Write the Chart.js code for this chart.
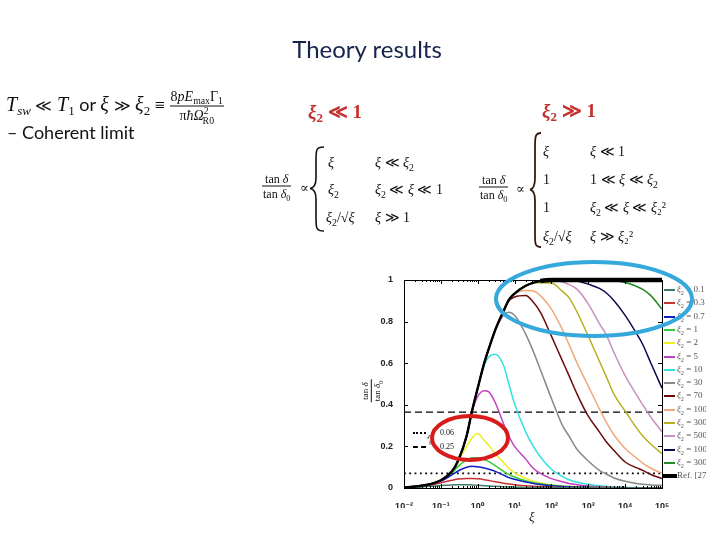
<!DOCTYPE html>
<html>
<head>
<meta charset="utf-8">
<script src="https://cdn.jsdelivr.net/npm/chart.js@4.4.1/dist/chart.umd.min.js"></script>
<style>
  html, body { margin:0; padding:0; background:#fff; }
  #wrap { position:relative; width:720px; height:540px; overflow:hidden; background:#fff; }
  #c { position:absolute; left:0; top:0; }
  .t { position:absolute; white-space:nowrap; line-height:1; transform:translateY(-50%); }
  .m { font-family:'Liberation Serif','DejaVu Serif',serif; color:#111; }
  .frac { display:inline-block; text-align:center; vertical-align:middle; }
  .frac .n { display:block; padding:0 1px 1px 1px; }
  .frac .d { display:block; border-top:1px solid #111; padding:1px 1px 0 1px; }
  sub, sup { font-size:70%; line-height:0; }
  #legend { position:absolute; left:662px; top:283px; width:44px; height:205px; overflow:hidden; }
  .lr { position:absolute; left:0; height:13px; white-space:nowrap; font:9px 'Liberation Serif','DejaVu Serif',serif; color:#555; }
  .lr .s { position:absolute; left:2px; top:6px; width:11px; height:2px; }
  .lr .l { position:absolute; left:15px; top:1px; }
  svg#ov { position:absolute; left:0; top:0; pointer-events:none; }
</style>
</head>
<body>
<div id="wrap">
  <canvas id="c" width="720" height="540" style="width:720px;height:540px"></canvas>

  <div class="t" style="left:0;width:734px;top:48px;text-align:center;font:24px Lato,'Open Sans',sans-serif;color:#17254d;">Theory results</div>

  <div class="t" style="left:6px;top:106px;font:18px Lato,'Open Sans',sans-serif;color:#111;">
    <span class="m" style="font-style:italic;font-size:20px">T</span><span class="m" style="font-style:italic;font-size:13px;vertical-align:-4px">sw</span>
    <span class="m" style="font-size:16px">≪</span>
    <span class="m" style="font-style:italic;font-size:20px">T</span><span class="m" style="font-size:13px;vertical-align:-4px">1</span>
    or
    <span class="m" style="font-style:italic;font-size:20px">ξ</span>
    <span class="m" style="font-size:16px">≫</span>
    <span class="m" style="font-style:italic;font-size:20px">ξ</span><span class="m" style="font-size:13px;vertical-align:-4px">2</span>
    <span class="m" style="font-size:18px">≡</span>
    <span class="frac m" style="font-size:14px;"><span class="n">8<i>pE</i><sub>max</sub>Γ<sub>1</sub></span><span class="d">π<i>ħ</i><i>Ω</i><sup>2</sup><sub style="margin-left:-6px">R0</sub></span></span>
  </div>
  <div class="t" style="left:7px;top:132px;font:18px Lato,'Open Sans',sans-serif;color:#111;">– Coherent limit</div>

  <div class="t m" style="left:308px;top:111px;font-size:19px;color:#c4302e;font-weight:bold;"><i>ξ</i><sub style="font-size:13px">2</sub> ≪ 1</div>
  <div class="t m" style="left:542px;top:110px;font-size:19px;color:#c4302e;font-weight:bold;"><i>ξ</i><sub style="font-size:13px">2</sub> ≫ 1</div>

  <!-- left block -->
  <div class="t m" style="left:262px;top:186px;font-size:12px;"><span class="frac"><span class="n">tan <i>δ</i></span><span class="d">tan <i>δ</i><sub>0</sub></span></span></div>
  <div class="t m" style="left:300px;top:187px;font-size:13px;">∝</div>
  <div class="t m" style="left:328px;top:163px;font-size:14px;"><i>ξ</i></div>
  <div class="t m" style="left:375px;top:163px;font-size:14px;"><i>ξ</i> ≪ <i>ξ</i><sub>2</sub></div>
  <div class="t m" style="left:328px;top:190px;font-size:14px;"><i>ξ</i><sub>2</sub></div>
  <div class="t m" style="left:375px;top:190px;font-size:14px;"><i>ξ</i><sub>2</sub> ≪ <i>ξ</i> ≪ 1</div>
  <div class="t m" style="left:326px;top:218px;font-size:14px;"><i>ξ</i><sub>2</sub>/√<i>ξ</i></div>
  <div class="t m" style="left:375px;top:218px;font-size:14px;"><i>ξ</i> ≫ 1</div>

  <!-- right block -->
  <div class="t m" style="left:479px;top:187px;font-size:12px;"><span class="frac"><span class="n">tan <i>δ</i></span><span class="d">tan <i>δ</i><sub>0</sub></span></span></div>
  <div class="t m" style="left:516px;top:188px;font-size:13px;">∝</div>
  <div class="t m" style="left:543px;top:152px;font-size:14px;"><i>ξ</i></div>
  <div class="t m" style="left:590px;top:152px;font-size:14px;"><i>ξ</i> ≪ 1</div>
  <div class="t m" style="left:543px;top:180px;font-size:14px;">1</div>
  <div class="t m" style="left:590px;top:180px;font-size:14px;">1 ≪ <i>ξ</i> ≪ <i>ξ</i><sub>2</sub></div>
  <div class="t m" style="left:543px;top:208px;font-size:14px;">1</div>
  <div class="t m" style="left:590px;top:208px;font-size:14px;"><i>ξ</i><sub>2</sub> ≪ <i>ξ</i> ≪ <i>ξ</i>₂²</div>
  <div class="t m" style="left:543px;top:237px;font-size:14px;"><i>ξ</i><sub>2</sub>/√<i>ξ</i></div>
  <div class="t m" style="left:590px;top:237px;font-size:14px;"><i>ξ</i> ≫ <i>ξ</i>₂²</div>

  <!-- axis titles -->
  <div class="t m" style="left:360px;top:391px;font-size:9px;transform:translateY(-50%) rotate(-90deg);transform-origin:center;"><span class="frac"><span class="n">tan <i>δ</i></span><span class="d">tan <i>δ</i><sub>0</sub></span></span></div>
  <div class="t m" style="left:529px;top:516px;font-size:13px;"><i>ξ</i></div>

  <!-- inner mini legend -->
  <div style="position:absolute;left:413px;top:432px;width:13px;border-top:2px dotted #000;"></div>
  <div style="position:absolute;left:413px;top:446px;width:13px;border-top:2px dashed #000;"></div>
  <div class="t m" style="left:425px;top:440px;font-size:8px;transform:translateY(-50%) rotate(90deg);">ξ ≈</div>
  <div class="t m" style="left:440px;top:433px;font-size:8px;">0.06</div>
  <div class="t m" style="left:440px;top:447px;font-size:8px;">0.25</div>

  <div id="legend"></div>

  <svg id="ov" width="720" height="540">
    <path d="M324,147 C316,147 316,150 316,160 L316,178 C316,185 314,188 310,188.5 C314,189 316,192 316,199 L316,218 C316,228 316,231 324,231" fill="none" stroke="#111" stroke-width="1.6"/>
    <path d="M541,133 C535,133 535,137 535,148 L535,178 C535,186 533,189 530,189.5 C533,190 535,193 535,201 L535,234 C535,244 535,247 541,247" fill="none" stroke="#3a1a10" stroke-width="1.8"/>
    <ellipse cx="470" cy="438" rx="38" ry="22" fill="none" stroke="#d81c1c" stroke-width="4"/>
    <ellipse cx="594" cy="299" rx="98" ry="37" fill="none" stroke="#35a8dc" stroke-width="4"/>
  </svg>
</div>

<script>
// ---- data ----
const xs = [0.01, 0.02, 0.05, 0.1, 0.2, 0.3, 0.5, 0.7, 1, 1.5, 2, 3, 5, 7, 10, 20, 30, 50, 100, 200, 300, 500, 1000, 2000, 3000, 5000, 1e4, 2e4, 3e4, 5e4, 1e5];

const seriesLabels = ['0.1','0.3','0.7','1','2','5','10','30','70','100','300','500','1000','3000'];
const refLabel = 'Ref. [27]';

const curve01   = [0.002,0.004,0.008,0.012,0.015,0.016,0.016,0.015,0.013,0.011,0.010,0.008,0.006,0.005,0.004,0.003,0.002,0.002,0.001,0.001,0.001,0.001,0.001,0,0,0,0,0,0,0,0];
const curve03   = [0.002,0.005,0.012,0.025,0.037,0.043,0.046,0.046,0.044,0.040,0.036,0.030,0.023,0.019,0.016,0.011,0.009,0.007,0.005,0.003,0.003,0.002,0.001,0.001,0.001,0,0,0,0,0,0];
const curve07   = [0.003,0.006,0.016,0.033,0.063,0.083,0.100,0.105,0.102,0.096,0.090,0.080,0.062,0.050,0.042,0.029,0.023,0.017,0.011,0.007,0.006,0.004,0.003,0.002,0.002,0.001,0.001,0,0,0,0];
const curve1    = [0.003,0.007,0.017,0.036,0.073,0.105,0.135,0.145,0.145,0.137,0.127,0.108,0.080,0.065,0.053,0.035,0.027,0.020,0.013,0.009,0.007,0.005,0.003,0.002,0.002,0.001,0.001,0,0,0,0];
const curve2    = [0.003,0.007,0.018,0.037,0.080,0.130,0.200,0.240,0.262,0.228,0.205,0.163,0.123,0.095,0.073,0.046,0.034,0.024,0.015,0.009,0.007,0.005,0.003,0.002,0.002,0.001,0.001,0,0,0,0];
const curve5    = [0.003,0.007,0.018,0.037,0.080,0.135,0.250,0.365,0.440,0.468,0.462,0.410,0.310,0.250,0.200,0.140,0.100,0.070,0.045,0.030,0.022,0.016,0.010,0.006,0.005,0.003,0.002,0.001,0.001,0,0];
const curve10   = [0.003,0.007,0.018,0.037,0.080,0.135,0.250,0.370,0.480,0.590,0.630,0.643,0.590,0.500,0.405,0.270,0.210,0.150,0.090,0.055,0.040,0.028,0.018,0.011,0.008,0.005,0.003,0.002,0.001,0.001,0];
const curve30   = [0.003,0.007,0.018,0.037,0.080,0.135,0.250,0.370,0.480,0.600,0.670,0.760,0.830,0.845,0.830,0.740,0.670,0.570,0.430,0.300,0.250,0.185,0.130,0.085,0.068,0.048,0.032,0.022,0.018,0.015,0.012];
const curve70   = [0.003,0.007,0.018,0.037,0.080,0.135,0.250,0.370,0.480,0.600,0.670,0.760,0.850,0.900,0.918,0.925,0.900,0.845,0.730,0.610,0.540,0.450,0.345,0.270,0.225,0.180,0.125,0.098,0.085,0.065,0.045];
const curve100  = [0.003,0.007,0.018,0.037,0.080,0.135,0.250,0.370,0.480,0.600,0.670,0.760,0.850,0.905,0.935,0.950,0.948,0.925,0.860,0.760,0.690,0.600,0.490,0.380,0.320,0.255,0.190,0.145,0.120,0.095,0.070];
const curve300  = [0.003,0.007,0.018,0.037,0.080,0.135,0.250,0.370,0.480,0.600,0.670,0.760,0.850,0.905,0.935,0.972,0.985,0.987,0.985,0.945,0.915,0.845,0.730,0.610,0.540,0.450,0.370,0.290,0.250,0.210,0.165];
const curve500  = [0.003,0.007,0.018,0.037,0.080,0.135,0.250,0.370,0.480,0.600,0.670,0.760,0.850,0.905,0.935,0.972,0.985,0.995,0.997,0.990,0.978,0.955,0.885,0.790,0.740,0.650,0.540,0.450,0.400,0.340,0.270];
const curve1000 = [0.003,0.007,0.018,0.037,0.080,0.135,0.250,0.370,0.480,0.600,0.670,0.760,0.850,0.905,0.935,0.972,0.985,0.995,1.000,1.000,1.000,0.995,0.980,0.960,0.940,0.900,0.830,0.745,0.690,0.600,0.480];
const curve3000 = [0.003,0.007,0.018,0.037,0.080,0.135,0.250,0.370,0.480,0.600,0.670,0.760,0.850,0.905,0.935,0.972,0.985,0.995,1.000,1.000,1.000,1.000,1.000,1.000,1.000,0.997,0.988,0.970,0.955,0.925,0.860];
const refCurve  = [0.003,0.007,0.018,0.037,0.080,0.135,0.250,0.370,0.480,0.600,0.670,0.760,0.850,0.905,0.935,0.972,0.985,0.995,1.000,1.000,1.000,1.000,1.000,1.000,1.000,1.000,1.000,1.000,1.000,1.000,1.000];

const levelXs = [0.01, 1e5];
const dashedLevel = [0.365, 0.365];
const dottedLevel = [0.07, 0.07];

const xTickValues = [0.01, 0.1, 1, 10, 100, 1000, 1e4, 1e5];
const xTickLabels = ['10⁻²','10⁻¹','10⁰','10¹','10²','10³','10⁴','10⁵'];
const yTickValues = [0, 0.2, 0.4, 0.6, 0.8, 1];
const yTickLabels = ['0','0.2','0.4','0.6','0.8','1'];

// ---- styles ----
const seriesData = [curve01, curve03, curve07, curve1, curve2, curve5, curve10, curve30, curve70, curve100, curve300, curve500, curve1000, curve3000];
const seriesColors = ['#3d7a66','#c83232','#1020c0','#33cc33','#eeee22','#c040c0','#33e0e0','#888888','#6b0a0a','#f0a878','#b8b020','#c890c0','#0a0a50','#228b22'];

const toPts = (xa, ya) => xa.map((x, i) => ({ x: x, y: ya[i] }));

const datasets = [];
datasets.push({ label: refLabel, data: toPts(xs, refCurve), borderColor: '#000', borderWidth: 2.4, order: 0, clip: 5,
  segment: { borderWidth: c => (c.p0.parsed.y >= 0.99 && c.p1.parsed.y >= 0.99) ? 4.5 : 2.4 } });
seriesData.forEach((arr, i) => {
  datasets.push({ label: 'ξ₂ = ' + seriesLabels[i], data: toPts(xs, arr), borderColor: seriesColors[i], borderWidth: 1.5, order: 10 + i, clip: 3 });
});
datasets.push({ label: 'dashed', data: toPts(levelXs, dashedLevel), borderColor: '#000', borderWidth: 1.2, borderDash: [7, 4], order: 50 });
datasets.push({ label: 'dotted', data: toPts(levelXs, dottedLevel), borderColor: '#000', borderWidth: 1.8, borderDash: [1.8, 3.5], order: 51 });

const minorMult = [2,3,4,5,6,7,8,9];

const framePlugin = {
  id: 'frame',
  afterDraw(chart) {
    const { ctx, chartArea: a, scales: { x, y } } = chart;
    ctx.save();
    ctx.strokeStyle = '#000';
    ctx.lineWidth = 1;
    ctx.strokeRect(Math.round(a.left) + 0.5, Math.round(a.top) + 0.5, Math.round(a.right - a.left), Math.round(a.bottom - a.top));
    ctx.beginPath();
    xTickValues.forEach(v => {
      const px = Math.round(x.getPixelForValue(v)) + 0.5;
      ctx.moveTo(px, a.bottom); ctx.lineTo(px, a.bottom - 4);
      ctx.moveTo(px, a.top); ctx.lineTo(px, a.top + 4);
    });
    for (let k = 0; k < xTickValues.length - 1; k++) {
      minorMult.forEach(m => {
        const px = Math.round(x.getPixelForValue(m * xTickValues[k])) + 0.5;
        ctx.moveTo(px, a.bottom); ctx.lineTo(px, a.bottom - 2);
        ctx.moveTo(px, a.top); ctx.lineTo(px, a.top + 2);
      });
    }
    yTickValues.forEach(v => {
      const py = Math.round(y.getPixelForValue(v)) + 0.5;
      ctx.moveTo(a.left, py); ctx.lineTo(a.left + 4, py);
      ctx.moveTo(a.right, py); ctx.lineTo(a.right - 4, py);
    });
    ctx.stroke();
    ctx.restore();
  }
};

const chart = new Chart(document.getElementById('c'), {
  type: 'line',
  data: { datasets: datasets },
  options: {
    responsive: false,
    animation: false,
    devicePixelRatio: 1,
    layout: { padding: { left: 374, top: 280, right: 58, bottom: 32 }, autoPadding: false },
    plugins: { legend: { display: false }, tooltip: { enabled: false } },
    elements: { point: { radius: 0 }, line: { cubicInterpolationMode: 'monotone', fill: false } },
    scales: {
      x: {
        type: 'logarithmic', min: 0.01, max: 1e5,
        grid: { display: false }, border: { display: false },
        afterBuildTicks: s => { s.ticks = xTickValues.map(v => ({ value: v })); },
        afterFit: s => { s.height = 20; },
        ticks: { callback: (v, i) => xTickLabels[i], autoSkip: false, maxRotation: 0, padding: 5,
                 color: '#222', font: { family: "'Liberation Sans','DejaVu Sans',sans-serif", size: 9, weight: 'bold' } }
      },
      y: {
        type: 'linear', min: 0, max: 1,
        grid: { display: false }, border: { display: false },
        afterBuildTicks: s => { s.ticks = yTickValues.map(v => ({ value: v })); },
        afterFit: s => { s.width = 30; },
        ticks: { callback: (v, i) => yTickLabels[i], padding: 3,
                 color: '#222', font: { family: "'Liberation Sans','DejaVu Sans',sans-serif", size: 9, weight: 'bold' } }
      }
    }
  },
  plugins: [framePlugin]
});

// ---- legend (HTML, built from the same arrays) ----
const lg = document.getElementById('legend');
const rowH = 13.3;
seriesLabels.forEach((lab, i) => {
  const r = document.createElement('div');
  r.className = 'lr';
  r.style.top = (i * rowH) + 'px';
  r.innerHTML = '<span class="s" style="background:' + seriesColors[i] + '"></span><span class="l"><i>ξ</i><sub>2</sub> = ' + lab + '</span>';
  lg.appendChild(r);
});
const rr = document.createElement('div');
rr.className = 'lr';
rr.style.top = (seriesLabels.length * rowH) + 'px';
rr.innerHTML = '<span class="s" style="background:#000;height:4px;top:5px;left:0;width:15px"></span><span class="l">' + refLabel + '</span>';
lg.appendChild(rr);
</script>
</body>
</html>
